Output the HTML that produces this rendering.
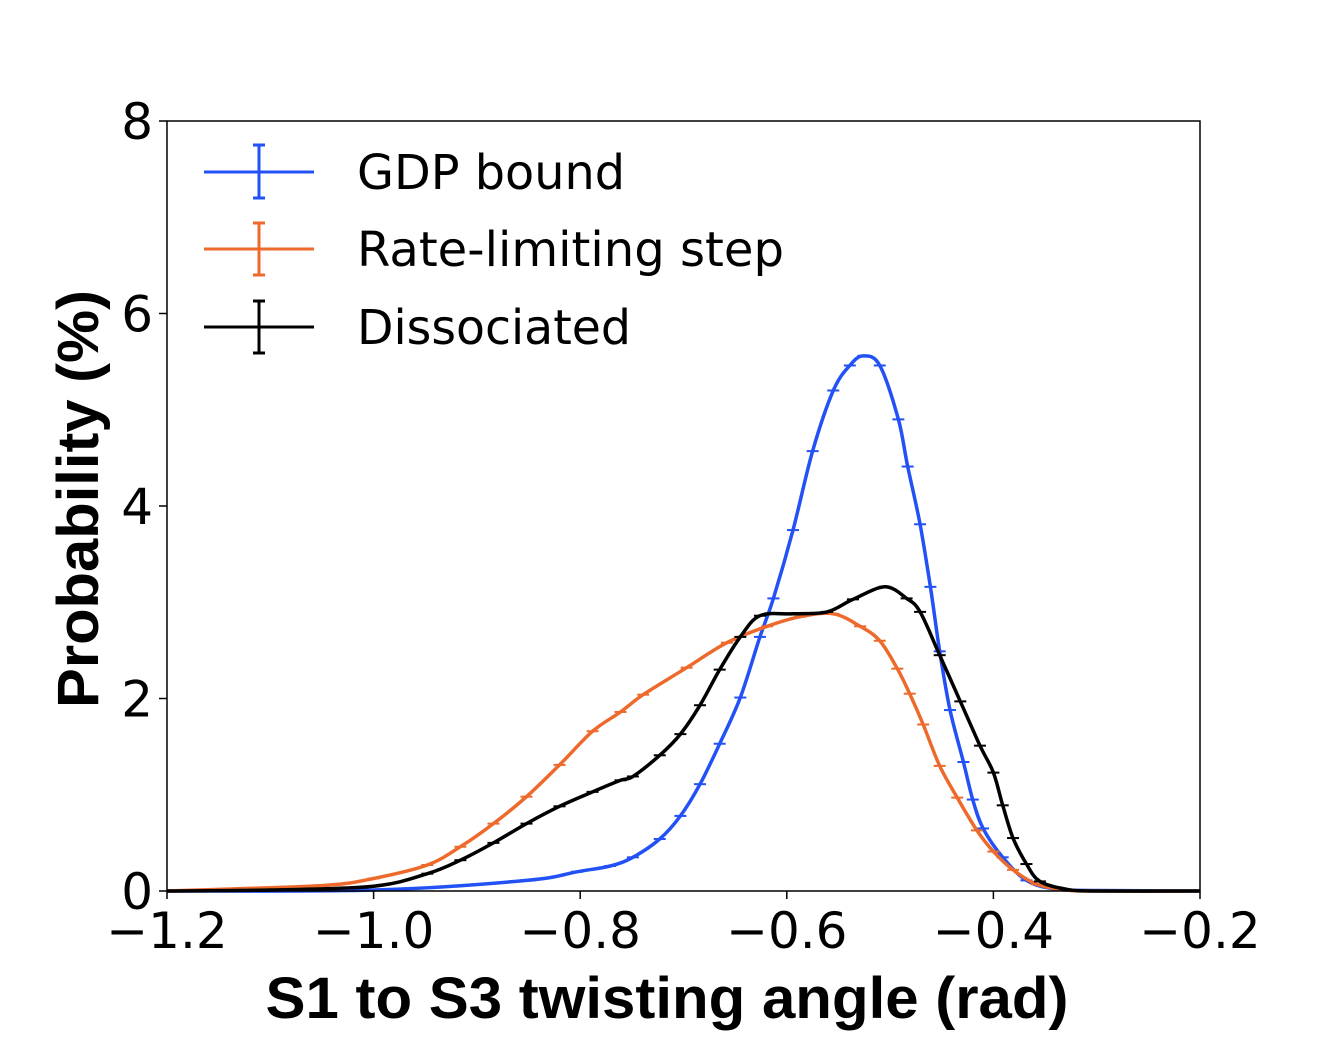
<!DOCTYPE html>
<html><head><meta charset="utf-8"><style>
html,body{margin:0;padding:0;background:#fff;}
svg{display:block;}
</style></head><body>
<svg id="chart" width="1335" height="1039" viewBox="0 0 1335 1039" xmlns="http://www.w3.org/2000/svg">
<g id="marks"></g>
<rect x="167" y="121" width="1033" height="770" fill="none" stroke="#000" stroke-width="1.5"/>
<g id="axes"></g>
<text x="667" y="1018" text-anchor="middle" font-family="Liberation Sans, sans-serif" font-weight="bold" font-size="58" textLength="803" lengthAdjust="spacingAndGlyphs">S1 to S3 twisting angle (rad)</text>
<text transform="translate(98,499) rotate(-90)" text-anchor="middle" font-family="Liberation Sans, sans-serif" font-weight="bold" font-size="58" textLength="418" lengthAdjust="spacingAndGlyphs">Probability (%)</text>
<g font-family="DejaVu Sans, sans-serif" font-size="48">
 <g>
  <line x1="204" y1="172" x2="314" y2="172" stroke="#2251f5" stroke-width="3"/>
  <line x1="259" y1="145" x2="259" y2="198" stroke="#2251f5" stroke-width="3"/>
  <line x1="253" y1="145" x2="265" y2="145" stroke="#2251f5" stroke-width="3"/>
  <line x1="253" y1="198" x2="265" y2="198" stroke="#2251f5" stroke-width="3"/>
  <text x="357" y="189" textLength="268" lengthAdjust="spacingAndGlyphs">GDP bound</text>
 </g>
 <g>
  <line x1="204" y1="249" x2="314" y2="249" stroke="#ee6a2c" stroke-width="3"/>
  <line x1="259" y1="223" x2="259" y2="275" stroke="#ee6a2c" stroke-width="3"/>
  <line x1="253" y1="223" x2="265" y2="223" stroke="#ee6a2c" stroke-width="3"/>
  <line x1="253" y1="275" x2="265" y2="275" stroke="#ee6a2c" stroke-width="3"/>
  <text x="357" y="266" textLength="427" lengthAdjust="spacingAndGlyphs">Rate-limiting step</text>
 </g>
 <g>
  <line x1="204" y1="327" x2="314" y2="327" stroke="#000" stroke-width="3"/>
  <line x1="259" y1="301" x2="259" y2="353" stroke="#000" stroke-width="3"/>
  <line x1="253" y1="301" x2="265" y2="301" stroke="#000" stroke-width="3"/>
  <line x1="253" y1="353" x2="265" y2="353" stroke="#000" stroke-width="3"/>
  <text x="357" y="344" textLength="274" lengthAdjust="spacingAndGlyphs">Dissociated</text>
 </g>
</g>
</svg>
<script>
const xTicks = [-1.2, -1.0, -0.8, -0.6, -0.4, -0.2];
const xTickLabels = ["\u22121.2", "\u22121.0", "\u22120.8", "\u22120.6", "\u22120.4", "\u22120.2"];
const yTicks = [0, 2, 4, 6, 8];
const yTickLabels = ["0", "2", "4", "6", "8"];

const gdpX = [-1.2, -1.0, -0.852, -0.803, -0.771, -0.749, -0.723, -0.703, -0.684, -0.665, -0.645, -0.626, -0.613, -0.594, -0.575, -0.555, -0.539, -0.526, -0.510, -0.492, -0.483, -0.471, -0.461, -0.452, -0.442, -0.429, -0.420, -0.410, -0.391, -0.368, -0.34, -0.3, -0.2];
const gdpY = [0, 0.01, 0.11, 0.2, 0.26, 0.35, 0.54, 0.78, 1.11, 1.53, 2.01, 2.64, 3.04, 3.75, 4.57, 5.20, 5.46, 5.56, 5.46, 4.90, 4.41, 3.81, 3.16, 2.49, 1.88, 1.34, 0.95, 0.65, 0.35, 0.11, 0.02, 0.005, 0];

const rateX = [-1.2, -1.142, -1.045, -1.0, -0.948, -0.916, -0.884, -0.852, -0.820, -0.788, -0.761, -0.739, -0.697, -0.658, -0.619, -0.587, -0.555, -0.529, -0.510, -0.493, -0.481, -0.468, -0.452, -0.435, -0.416, -0.400, -0.381, -0.358, -0.33, -0.3, -0.2];
const rateY = [0, 0.02, 0.06, 0.13, 0.27, 0.46, 0.70, 0.98, 1.31, 1.66, 1.86, 2.04, 2.32, 2.58, 2.75, 2.85, 2.88, 2.75, 2.60, 2.31, 2.05, 1.73, 1.30, 0.97, 0.63, 0.41, 0.22, 0.07, 0.01, 0, 0];

const dissX = [-1.2, -1.1, -1.0, -0.948, -0.916, -0.884, -0.852, -0.820, -0.788, -0.761, -0.749, -0.723, -0.703, -0.684, -0.665, -0.645, -0.626, -0.594, -0.561, -0.536, -0.505, -0.484, -0.471, -0.452, -0.432, -0.413, -0.400, -0.391, -0.381, -0.368, -0.355, -0.33, -0.3, -0.2];
const dissY = [0, 0.01, 0.05, 0.18, 0.32, 0.50, 0.70, 0.88, 1.03, 1.15, 1.19, 1.41, 1.63, 1.93, 2.30, 2.64, 2.86, 2.88, 2.90, 3.03, 3.16, 3.04, 2.90, 2.45, 1.97, 1.51, 1.23, 0.89, 0.55, 0.28, 0.10, 0.02, 0, 0];

const X0 = 167, X1 = 1200, Y0 = 891, Y1 = 121;
function sx(v){ return X0 + (v - (-1.2)) / 1.0 * (X1 - X0); }
function sy(v){ return Y0 - v / 8 * (Y0 - Y1); }
const NS = "http://www.w3.org/2000/svg";
const axes = document.getElementById('axes');
const marks = document.getElementById('marks');
function mk(tag, attrs, parent){ const e = document.createElementNS(NS, tag); for (const k in attrs) e.setAttribute(k, attrs[k]); parent.appendChild(e); return e; }

xTicks.forEach((t, i) => {
  const ln = mk('line', {x1: sx(t), x2: sx(t), y1: Y0, y2: Y0 + 8, stroke: '#000', 'stroke-width': 1.5}, axes);
  
  
  const tx = mk('text', {x: sx(t), y: Y0 + 57, 'text-anchor': 'middle', 'font-family': 'DejaVu Sans, sans-serif', 'font-size': 50}, axes);
  tx.textContent = xTickLabels[i];
  
  
});
yTicks.forEach((t, i) => {
  const ln = mk('line', {x1: X0 - 8, x2: X0, y1: sy(t), y2: sy(t), stroke: '#000', 'stroke-width': 1.5}, axes);
  
  
  const tx = mk('text', {x: X0 - 14, y: sy(t) + 18, 'text-anchor': 'end', 'font-family': 'DejaVu Sans, sans-serif', 'font-size': 50}, axes);
  tx.textContent = yTickLabels[i];
  
  
});

function smoothPath(xs, ys){
  const P = xs.map((x, i) => [sx(x), sy(ys[i])]);
  let d = 'M' + P[0][0].toFixed(1) + ',' + P[0][1].toFixed(1);
  for (let i = 0; i < P.length - 1; i++) {
    const p0 = P[Math.max(0, i - 1)], p1 = P[i], p2 = P[i + 1], p3 = P[Math.min(P.length - 1, i + 2)];
    const c1 = [p1[0] + (p2[0] - p0[0]) / 6, p1[1] + (p2[1] - p0[1]) / 6];
    const c2 = [p2[0] - (p3[0] - p1[0]) / 6, p2[1] - (p3[1] - p1[1]) / 6];
    d += ' C' + c1[0].toFixed(1) + ',' + c1[1].toFixed(1) + ' ' + c2[0].toFixed(1) + ',' + c2[1].toFixed(1) + ' ' + p2[0].toFixed(1) + ',' + p2[1].toFixed(1);
  }
  return d;
}

function series(xs, ys, color, name){
  const g = mk('g', {}, marks);
  
  
  const p = mk('path', {d: smoothPath(xs, ys), fill: 'none', stroke: color, 'stroke-width': 3.5, 'stroke-linejoin': 'round'}, g);
  
  
  xs.forEach((x, i) => {
    if (ys[i] < 0.05) return;
    const c = mk('line', {x1: sx(x) - 6, x2: sx(x) + 6, y1: sy(ys[i]), y2: sy(ys[i]), stroke: color, 'stroke-width': 2}, g);
    
    
  });
}
series(gdpX, gdpY, '#2251f5', 'gdp-bound-series');
series(rateX, rateY, '#ee6a2c', 'rate-limiting-series');
series(dissX, dissY, '#000000', 'dissociated-series');
</script>
</body></html>
